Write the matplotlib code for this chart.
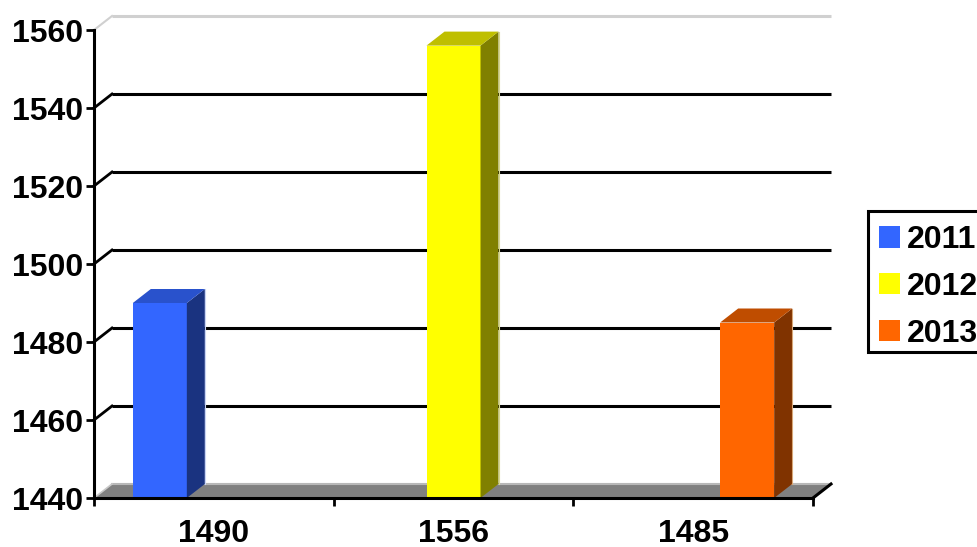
import matplotlib
matplotlib.use('Agg')
import matplotlib.pyplot as plt
from matplotlib.patches import Polygon, Rectangle

plt.rcParams['font.family'] = ['Liberation Sans', 'DejaVu Sans']
plt.rcParams['font.weight'] = 'bold'

# Data.
categories = ['1490', '1556', '1485']
years = ['2011', '2012', '2013']
values = [1490, 1556, 1485]
y_ticks = [1440, 1460, 1480, 1500, 1520, 1540, 1560]

colors = ['#3366FF', '#FFFF00', '#FF6600']
side_colors = ['#1A3380', '#808000', '#803300']
top_colors = ['#2952CC', '#BFBF00', '#BF4D00']
edge_colors = ['#C8D4F5', '#D8D890', '#D8A878']

W, H = 978, 547
fig = plt.figure(figsize=(W / 100, H / 100), dpi=100)
# Front plane of the fake 3D plot, placed in pixels.
left, right, top, bottom = 94, 813, 30, 498
ax = fig.add_axes([left / W, 1 - bottom / H, (right - left) / W, (bottom - top) / H])
ax.set_xlim(0, len(categories))
ax.set_ylim(y_ticks[0], y_ticks[-1])

# Depth of the 3D effect, turned into data units.
dx = 18 / ((right - left) / len(categories))
dy = 14 / ((bottom - top) / (y_ticks[-1] - y_ticks[0]))
x_max = len(categories)
y_min = y_ticks[0]
y_max = y_ticks[-1]

# Floor.
ax.add_patch(Polygon([(0, y_min), (dx, y_min + dy), (x_max + dx, y_min + dy), (x_max, y_min)],
                     closed=True, facecolor='#808080', edgecolor='none', clip_on=False, zorder=1))
ax.plot([dx, x_max + dx], [y_min + dy, y_min + dy], color='#B8B8B8', lw=1.5, clip_on=False, zorder=1.5)
ax.plot([0, dx], [y_min, y_min + dy], color='#C8C8C8', lw=1.2, clip_on=False, zorder=1.5)
ax.plot([x_max, x_max + dx], [y_min, y_min + dy], color='black', lw=2.2, clip_on=False, zorder=1.5)

# Grid lines on the back wall, with the slanted piece on the side wall.
for t in y_ticks[1:]:
    c = '#D0D0D0' if t == y_max else 'black'
    ax.plot([dx, x_max + dx], [t + dy, t + dy], color=c, lw=2.2, clip_on=False, zorder=1.5,
            solid_capstyle='butt')
    ax.plot([0, dx], [t, t + dy], color=c, lw=2 if t != y_max else 1.5, clip_on=False, zorder=1.5)

# One bar per year, each in its own slot of its category.
bar_w = 54 / ((right - left) / len(categories))
handles = []
for i, year in enumerate(years):
    x0 = i + 0.5 + (i - 1) * bar_w - bar_w / 2
    v = values[i]
    bars = ax.bar(x0, v - y_min, width=bar_w, bottom=y_min, align='edge', color=colors[i],
                  zorder=3, edgecolor='none')
    handles.append(bars[0])
    x1 = x0 + bar_w
    ax.add_patch(Polygon([(x1, y_min), (x1 + dx, y_min + dy), (x1 + dx, v + dy), (x1, v)],
                         closed=True, facecolor=side_colors[i], edgecolor='none', clip_on=False, zorder=3))
    ax.add_patch(Polygon([(x0, v), (x0 + dx, v + dy), (x1 + dx, v + dy), (x1, v)],
                         closed=True, facecolor=top_colors[i], edgecolor='none', clip_on=False, zorder=3))
    ax.plot([x1 + dx, x1 + dx], [y_min + dy, v + dy], color=edge_colors[i], lw=0.8, clip_on=False, zorder=3.1)

for s in ['top', 'right']:
    ax.spines[s].set_visible(False)
for s in ['left', 'bottom']:
    ax.spines[s].set_linewidth(2.2)
    ax.spines[s].set_zorder(4)

ax.set_yticks(y_ticks)
ax.set_xticks(range(len(categories) + 1))
ax.set_xticklabels([])
ax.set_xticks([i + 0.5 for i in range(len(categories))], minor=True)
ax.set_xticklabels(categories, minor=True)
ax.tick_params(axis='x', which='major', length=6, width=2)
ax.tick_params(axis='x', which='minor', length=0, pad=15, labelsize=23)
ax.tick_params(axis='y', length=6, width=2, pad=1.5, labelsize=23)
for lab in ax.get_yticklabels():
    lab.set_verticalalignment('center_baseline')

# Legend box runs past the right edge of the picture, so the frame is its own patch.
fig.add_artist(Rectangle((868 / W, 1 - 352 / H), 130 / W, 141 / H, transform=fig.transFigure,
                         facecolor='white', edgecolor='black', linewidth=2.2))
leg = fig.legend(handles, years, loc='upper left',
                 bbox_to_anchor=(879 / W, 1 - 225 / H), bbox_transform=fig.transFigure,
                 fontsize=23, frameon=False,
                 handlelength=0.66, handleheight=0.66, handletextpad=0.2,
                 labelspacing=0.525, borderpad=0, borderaxespad=0)

fig.savefig('out.png', dpi=100)
